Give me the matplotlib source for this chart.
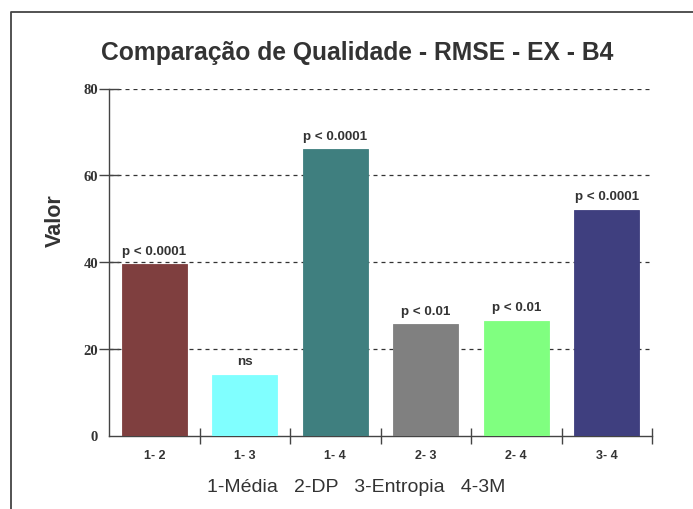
import matplotlib
matplotlib.use("Agg")
import matplotlib.pyplot as plt
from matplotlib.lines import Line2D

categories = ["1- 2", "1- 3", "1- 4", "2- 3", "2- 4", "3- 4"]
values = [39.5, 14.0, 66.0, 25.6, 26.4, 52.0]
pvalues = ["p < 0.0001", "ns", "p < 0.0001", "p < 0.01", "p < 0.01", "p < 0.0001"]
colors = ["#7f3f3f", "#80ffff", "#3f7f7f", "#808080", "#80ff80", "#3f3f7f"]
yticks = [0, 20, 40, 60, 80]

W, H = 693, 510
fig = plt.figure(figsize=(W / 100, H / 100), dpi=100)
fig.patch.set_facecolor("white")

# outer frame (only top and left visible in the crop)
fig.add_artist(Line2D([10.5 / W, 10.5 / W, 1.0], [0.0, 1 - 12.5 / H, 1 - 12.5 / H],
                      transform=fig.transFigure, color="#444444", lw=1.3))

ax = fig.add_axes([109 / W, (510 - 436.5) / H, (652 - 109) / W, (436.5 - 89.5) / H])
x = list(range(len(categories)))
ax.bar(x, values, width=0.72, color=colors, edgecolor=colors, linewidth=0.6, zorder=3)
ax.set_xlim(-0.5, len(categories) - 0.5)
ax.set_ylim(0, 80)

for yv in yticks[1:]:
    ax.axhline(yv, color="#333333", lw=0.9, ls=(0, (3.2, 3.2)), zorder=1)

for xi, v, p in zip(x, values, pvalues):
    ax.annotate(p, (xi, v), xytext=(0, 5.5), textcoords="offset points",
                ha="center", va="bottom", fontsize=9.6, fontweight="bold",
                color="#333333", family="Liberation Sans")

for s in ["top", "right"]:
    ax.spines[s].set_visible(False)
for s in ["left", "bottom"]:
    ax.spines[s].set_color("#444444")
    ax.spines[s].set_linewidth(1.0)

ax.set_xticks(x)
ax.set_xticklabels(categories)
ax.set_xticks([i + 0.5 for i in x], minor=True)
ax.tick_params(axis="x", which="major", length=0, pad=10)
ax.tick_params(axis="x", which="minor", direction="inout", length=11, width=1.0, color="#444444")
for lab in ax.get_xticklabels():
    lab.set_fontsize(9)
    lab.set_fontweight("bold")
    lab.set_color("#333333")
    lab.set_family("Liberation Sans")

ax.set_yticks(yticks)
ax.tick_params(axis="y", which="major", direction="inout", length=14, width=1.0,
               color="#444444", pad=1)
ax.yaxis.get_major_ticks()[0].tick1line.set_visible(False)
for lab in ax.get_yticklabels():
    lab.set_fontsize(10.5)
    lab.set_fontweight("bold")
    lab.set_color("#333333")
    lab.set_family("Liberation Serif")

fig.text(55 / W, 1 - 221 / H, "Valor", rotation=90, ha="center", va="center",
         fontsize=15.5, fontweight="bold", color="#333333", family="Liberation Sans")

fig.text(357 / W, 1 - 60 / H, "Comparação de Qualidade - RMSE - EX - B4", ha="center",
         va="baseline", fontsize=17.7, fontweight="bold", color="#333333",
         family="Liberation Sans")

fig.text(356 / W, 1 - 492.5 / H, "1-Média   2-DP   3-Entropia   4-3M", ha="center",
         va="baseline", fontsize=14, color="#333333", family="Liberation Sans")

fig.savefig("out.png", dpi=100)
